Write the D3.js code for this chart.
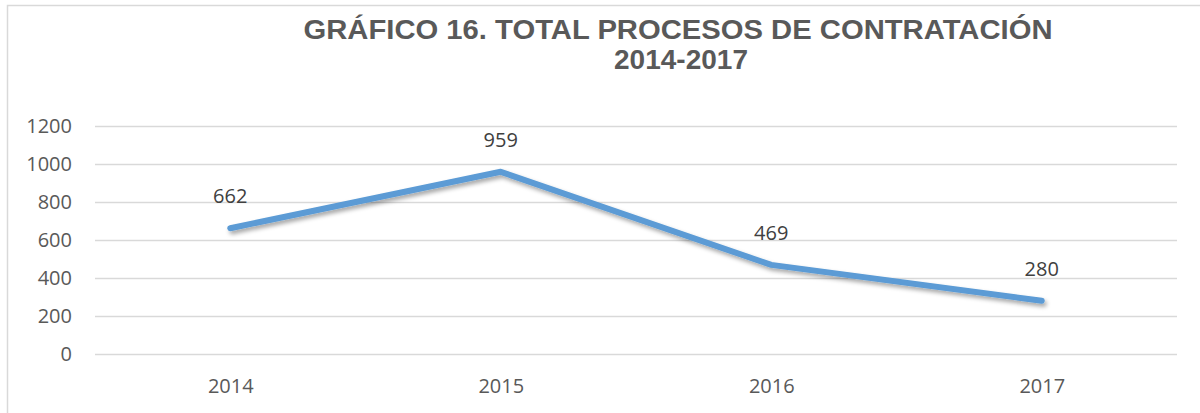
<!DOCTYPE html>
<html>
<head>
<meta charset="utf-8">
<script src="https://cdn.jsdelivr.net/npm/d3@7"></script>
<style>
  body { margin: 0; background: #fff; }
  svg { display: block; }
</style>
</head>
<body>
<div id="chart"></div>
<script>
// data
var years = ['2014', '2015', '2016', '2017']
var totals = [662, 959, 469, 280]
var yTicks = [0, 200, 400, 600, 800, 1000, 1200]
var titleLines = ['GRÁFICO 16. TOTAL PROCESOS DE CONTRATACIÓN', '2014-2017']

var width = 1200
var height = 413
var margin = { top: 126, right: 23, bottom: 59, left: 95 }
var labelFont = '"Open Sans", "Noto Sans", sans-serif'

var svg = d3.select('#chart')
    .append('svg')
    .attr('width', width)
    .attr('height', height)

// soft shadow under the line
var defs = svg.append('defs')
var filter = defs.append('filter')
    .attr('id', 'shadow')
    .attr('x', '-10%').attr('y', '-30%')
    .attr('width', '120%').attr('height', '160%')
filter.append('feDropShadow')
    .attr('dx', 2)
    .attr('dy', 3)
    .attr('stdDeviation', 2)
    .attr('flood-color', '#000')
    .attr('flood-opacity', 0.35)

// outer frame (left and top edges show in the picture)
svg.append('path')
    .attr('d', 'M7.5,' + height + 'V5.5H' + width)
    .attr('fill', 'none')
    .attr('stroke', '#d9d9d9')
    .attr('stroke-width', 1.5)

// title, two lines
svg.append('text')
    .attr('y', 39)
    .attr('text-anchor', 'middle')
    .style('font-family', '"Liberation Sans", Arial, sans-serif')
    .style('font-weight', 'bold')
    .style('font-size', '27px')
    .attr('fill', '#595959')
    .selectAll('tspan')
    .data(titleLines)
    .enter()
    .append('tspan')
    .attr('x', function (d, i) { return i === 0 ? 678 : 681 })
    .attr('dy', function (d, i) { return i === 0 ? 0 : 30 })
    .attr('textLength', function (d, i) { return i === 0 ? 749 : null })
    .attr('lengthAdjust', 'spacingAndGlyphs')
    .style('font-size', function (d, i) { return i === 0 ? '27px' : '28px' })
    .text(function (d) { return d })

var x = d3.scalePoint()
    .domain(years)
    .range([margin.left, width - margin.right])
    .padding(0.5)

var y = d3.scaleLinear()
    .domain([0, 1200])
    .range([height - margin.bottom, margin.top])

// gridlines + y labels
var yAxis = d3.axisLeft(y)
    .tickValues(yTicks)
    .tickFormat(d3.format('d'))
    .tickSize(-(width - margin.left - margin.right))
    .tickPadding(23)

var gy = svg.append('g')
    .attr('transform', 'translate(' + margin.left + ',0)')
    .call(yAxis)
gy.select('.domain').remove()
gy.selectAll('.tick line')
    .attr('stroke', '#d9d9d9')
    .attr('stroke-width', 1.3)
gy.selectAll('.tick text')
    .attr('fill', '#595959')
    .style('font-family', labelFont)
    .style('font-size', '20px')

// x labels
var xAxis = d3.axisBottom(x).tickSize(0).tickPadding(25)
var gx = svg.append('g')
    .attr('transform', 'translate(0,' + (height - margin.bottom) + ')')
    .call(xAxis)
gx.select('.domain').remove()
gx.selectAll('.tick text')
    .attr('fill', '#595959')
    .style('font-family', labelFont)
    .style('font-size', '20px')

// the line
var line = d3.line()
    .x(function (d, i) { return x(years[i]) })
    .y(function (d) { return y(d) })

svg.append('path')
    .datum(totals)
    .attr('d', line)
    .attr('fill', 'none')
    .attr('stroke', '#5b9bd5')
    .attr('stroke-width', 6)
    .attr('stroke-linecap', 'round')
    .attr('stroke-linejoin', 'round')
    .attr('filter', 'url(#shadow)')

// value labels
svg.selectAll('.vlabel')
    .data(totals)
    .enter()
    .append('text')
    .attr('class', 'vlabel')
    .attr('x', function (d, i) { return x(years[i]) })
    .attr('y', function (d) { return y(d) - 32 })
    .attr('dy', '0.35em')
    .attr('text-anchor', 'middle')
    .attr('fill', '#404040')
    .style('font-family', labelFont)
    .style('font-size', '20px')
    .text(function (d) { return d })
</script>
</body>
</html>
